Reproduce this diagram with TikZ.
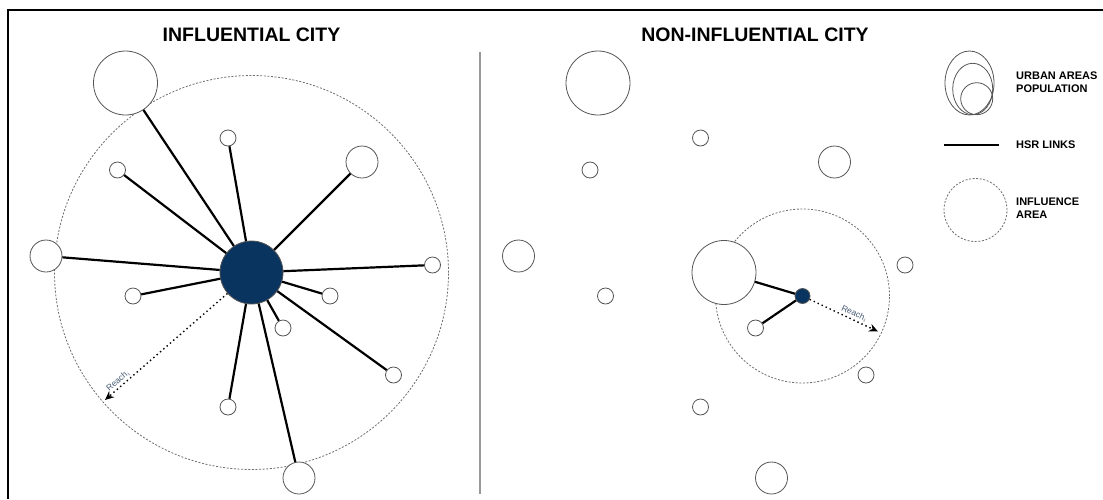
\documentclass[tikz,border=0pt]{standalone}
\usepackage{fontspec}
\setmainfont{Liberation Sans}
\usetikzlibrary{arrows.meta}
\definecolor{hubblue}{RGB}{9,52,96}
\definecolor{rim}{RGB}{85,85,85}
\definecolor{reachgray}{RGB}{70,90,115}
\tikzset{
    town/.style={circle, draw=rim, line width=0.8pt, fill=white, inner sep=0pt},
    hub/.style={town, fill=hubblue},
    link/.style={line width=2.2pt, black},
    influence/.style={rim!85, line width=0.8pt, dash pattern=on 2pt off 1.6pt},
    reach/.style={line width=1.4pt, dash pattern=on 1.4pt off 3pt, -{Stealth[length=9pt,width=8pt]}},
    reachlabel/.style={sloped, above, inner sep=1.5pt, text=reachgray, font=\fontsize{8.5}{9}\selectfont},
    title/.style={font=\bfseries\fontsize{19.5}{22}\selectfont},
    legend/.style={anchor=west, inner sep=0pt, align=left, font=\bfseries\fontsize{11}{13}\selectfont}
}
\begin{document}
\begin{tikzpicture}[x=1pt, y=-1pt]
                    \useasboundingbox (0,0) rectangle (1103,499);
                    \draw[line width=2pt] (1103,10) -- (8,10) -- (8,499);
                    \draw[black!40, line width=1.5pt] (480,52) -- (480,494);
                    \node[title] (t1) at (251.5,34.5) {INFLUENTIAL CITY};
                    \node[title] (t2) at (755,34.5) {NON-INFLUENTIAL CITY};
                    % influential city
                    \draw[influence] (251.5,272.5) circle[radius=197pt];
                    \node[hub, minimum size=63pt] (h1) at (251.5,272.5) {};
                    \foreach \n/\x/\y/\d in {a/125.5/83/64, b/228/138/16, c/117.5/170/16, d/362/162/32,
                                             e/46/256/32, f/432.5/265/16, g/133/296/16, h/330/296/16,
                                             i/283/328/16, j/393.5/375/16, k/228/407/16, l/299/478/32} {
                        \node[town, minimum size=\d pt] (l\n) at (\x,\y) {};
                        \draw[link] (h1) -- (l\n);
                    }
                    \coordinate (r1) at (105,400);
                    \draw[reach] (h1) -- (r1) node[reachlabel, pos=0.86] {$\mathrm{Reach}_i$};
                    % non-influential city
                    \draw[influence] (802.5,296) circle[radius=87pt];
                    \foreach \n/\x/\y/\d in {a/598/83/64, b/700.5/138/16, c/590/170/16, d/834.5/162/32,
                                             e/518.5/256/32, f/905/265/16, g/605.5/296/16, m/724/272.5/64,
                                             i/755.5/328/16, j/866/375/16, k/700.5/407/16, l/771.5/478/32} {
                        \node[town, minimum size=\d pt] (n\n) at (\x,\y) {};
                    }
                    \node[hub, minimum size=15pt] (h2) at (802.5,296) {};
                    \foreach \n in {m,i} {
                        \draw[link] (h2) -- (n\n);
                    }
                    \coordinate (r2) at (878,331.5);
                    \draw[reach] (h2) -- (r2) node[reachlabel, pos=0.62] {$\mathrm{Reach}_i$};
                    % legend
                    \draw[rim, line width=0.8pt] (969.5,83) ellipse[x radius=24.5pt, y radius=32pt];
                    \draw[rim, line width=0.8pt] (972.7,89) ellipse[x radius=20pt, y radius=25.7pt];
                    \draw[rim, line width=0.8pt] (976.7,98.7) circle[radius=16pt];
                    \node[legend] (k1) at (1016,82.5) {URBAN AREAS\\POPULATION};
                    \coordinate (s1) at (944,145);
                    \coordinate (s2) at (999,145);
                    \draw[link] (s1) -- (s2);
                    \node[legend] (k2) at (1016,145) {HSR LINKS};
                    \draw[influence] (975.5,210) circle[radius=31.5pt];
                    \node[legend] (k3) at (1016,208.5) {INFLUENCE\\AREA};
                \end{tikzpicture}
\end{document}
